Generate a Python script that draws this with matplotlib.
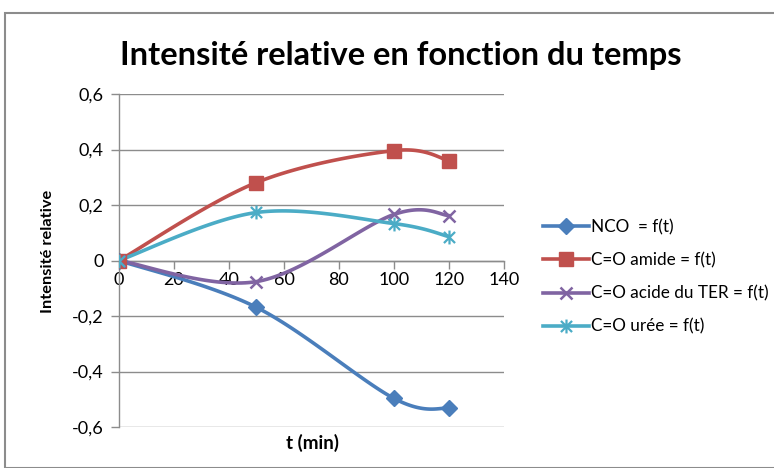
import numpy as np
import matplotlib
matplotlib.use("Agg")
import matplotlib.pyplot as plt
from matplotlib.path import Path
from matplotlib.patches import Rectangle

t = [0, 50, 100, 120]
nco = [0, -0.169, -0.497, -0.533]
amide = [0, 0.281, 0.396, 0.360]
acide = [0, -0.076, 0.166, 0.162]
uree = [0, 0.173, 0.133, 0.086]
labels = ["NCO  = f(t)", "C=O amide = f(t)", "C=O acide du TER = f(t)", "C=O urée = f(t)"]
colors = ["#4A7EBB", "#C0504D", "#8064A2", "#4BACC6"]
xticks = [0, 20, 40, 60, 80, 100, 120, 140]
yticks = [-0.6, -0.4, -0.2, 0, 0.2, 0.4, 0.6]
ytick_labels = ["-0,6", "-0,4", "-0,2", "0", "0,2", "0,4", "0,6"]

plt.rcParams['font.family'] = ['Lato', 'DejaVu Sans']


def smooth(x, y, n=40):
    x = np.asarray(x, float); y = np.asarray(y, float)
    P = np.column_stack([x, y])
    out = [P[0]]
    for i in range(len(P) - 1):
        p0 = P[i - 1] if i > 0 else P[i]
        p1 = P[i]; p2 = P[i + 1]
        p3 = P[i + 2] if i + 2 < len(P) else P[i + 1]
        c1 = p1 + (p2 - p0) / 6
        c2 = p2 - (p3 - p1) / 6
        s = np.linspace(0, 1, n)[1:, None]
        b = (1 - s) ** 3 * p1 + 3 * (1 - s) ** 2 * s * c1 + 3 * (1 - s) * s ** 2 * c2 + s ** 3 * p2
        out.extend(b)
    out = np.array(out)
    return out[:, 0], out[:, 1]


star = Path([(0, -1), (0, 1), (-0.8, -0.8), (0.8, 0.8), (-0.8, 0.8), (0.8, -0.8)],
            [Path.MOVETO, Path.LINETO, Path.MOVETO, Path.LINETO, Path.MOVETO, Path.LINETO])

fig = plt.figure(figsize=(7.74, 4.68), dpi=100)
fig.patches.append(Rectangle((5 / 774, 0), 1, 1 - 13 / 468, transform=fig.transFigure,
                             fill=False, edgecolor="#8c8c8c", linewidth=1.5, zorder=0))
ax = fig.add_axes([119 / 774, 1 - 427 / 468, (504 - 119) / 774, (427 - 94) / 468])

series = [nco, amide, acide, uree]
markers = [dict(marker="D", markersize=8.5),
           dict(marker="s", markersize=10.5),
           dict(marker="x", markersize=9, markeredgewidth=1.8),
           dict(marker=star, markersize=10, markeredgewidth=1.6)]
handles = []
for ys, c, m, lab in zip(series, colors, markers, labels):
    sx, sy = smooth(t, ys)
    ax.plot(sx, sy, color=c, linewidth=2.6, solid_capstyle="round", zorder=3)
    ax.plot(t, ys, linestyle="none", color=c, markerfacecolor=c, markeredgecolor=c, zorder=4, **m)
    h, = ax.plot([], [], color=c, linewidth=2.6, markerfacecolor=c, markeredgecolor=c, label=lab, **m)
    handles.append(h)

ax.set_xlim(0, 140)
ax.set_ylim(-0.6, 0.6)
ax.set_yticks(yticks)
ax.set_yticklabels(ytick_labels)
ax.set_xticks(xticks)
ax.set_xticklabels([str(v) for v in xticks])
ax.yaxis.grid(True, color="#8c8c8c", linewidth=1)
ax.set_axisbelow(True)
for s in ["top", "right"]:
    ax.spines[s].set_visible(False)
ax.spines["bottom"].set_position(("data", 0))
ax.spines["left"].set_color("#8c8c8c")
ax.spines["bottom"].set_color("#8c8c8c")
ax.spines["left"].set_linewidth(1)
ax.spines["bottom"].set_linewidth(1)
ax.tick_params(axis="both", colors="#8c8c8c", labelcolor="black", labelsize=13, length=6, width=1)
ax.tick_params(axis="x", pad=2)
ax.tick_params(axis="y", pad=5)

fig.text(401 / 774, 1 - 55 / 468, "Intensité relative en fonction du temps", ha="center", va="center",
         fontsize=23.5, fontweight="bold")
fig.text(48 / 774, 1 - 251 / 468, "Intensité relative", rotation=90, ha="center", va="center",
         fontsize=11.8, fontweight="bold")
fig.text(312 / 774, 1 - 443 / 468, "t (min)", ha="center", va="center", fontsize=13.5, fontweight="bold")

fig.legend(handles=handles, loc="upper left", bbox_to_anchor=(543 / 774, 1 - 219 / 468),
           frameon=False, fontsize=12.3, handlelength=2.7, handletextpad=0.1, labelspacing=1.0,
           borderpad=0, borderaxespad=0)

fig.savefig("out.png", dpi=100)
